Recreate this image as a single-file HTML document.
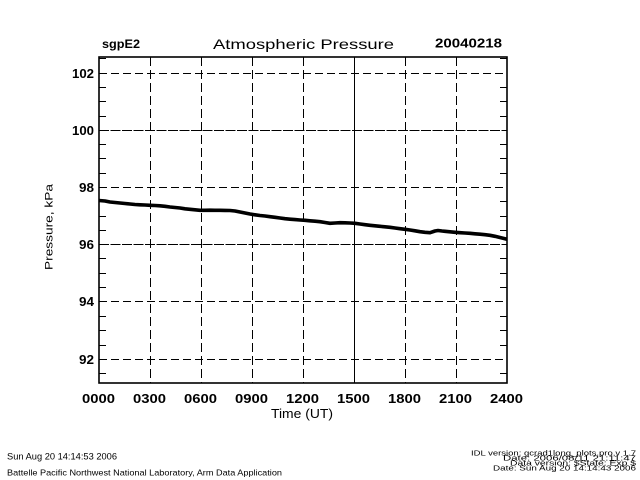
<!DOCTYPE html>
<html><head><meta charset="utf-8"><style>
html,body{margin:0;padding:0;background:#fff;}
svg{display:block;}
text{font-family:"Liberation Sans",sans-serif;fill:#000;}
</style></head><body>
<svg width="640" height="480" viewBox="0 0 640 480" xmlns="http://www.w3.org/2000/svg">
<rect width="640" height="480" fill="#fff"/>
<!-- grid verticals -->
<g stroke="#000" stroke-width="1" fill="none">
<line x1="150.5" y1="57" x2="150.5" y2="383" stroke-dasharray="9,4"/>
<line x1="201.5" y1="57" x2="201.5" y2="383" stroke-dasharray="9,4"/>
<line x1="252.5" y1="57" x2="252.5" y2="383" stroke-dasharray="9,4"/>
<line x1="303.5" y1="57" x2="303.5" y2="383" stroke-dasharray="9,4"/>
<line x1="354.5" y1="57" x2="354.5" y2="383"/>
<line x1="405.5" y1="57" x2="405.5" y2="383" stroke-dasharray="9,4"/>
<line x1="456.5" y1="57" x2="456.5" y2="383" stroke-dasharray="9,4"/>
<!-- grid horizontals -->
<line x1="99" y1="73.5" x2="507" y2="73.5" stroke-dasharray="8,4"/>
<line x1="99" y1="130.5" x2="507" y2="130.5" stroke-dasharray="10,1.5"/>
<line x1="99" y1="187.5" x2="507" y2="187.5" stroke-dasharray="8,4"/>
<line x1="99" y1="244.5" x2="507" y2="244.5" stroke-dasharray="10,1.5"/>
<line x1="99" y1="301.5" x2="507" y2="301.5" stroke-dasharray="8,4"/>
<line x1="99" y1="359.5" x2="507" y2="359.5" stroke-dasharray="8,4"/>
</g>
<!-- minor ticks -->
<g stroke="#000" stroke-width="1">
<line x1="99" y1="58.5" x2="106" y2="58.5"/><line x1="500" y1="58.5" x2="507" y2="58.5"/>
<line x1="99" y1="87.5" x2="106" y2="87.5"/><line x1="500" y1="87.5" x2="507" y2="87.5"/>
<line x1="99" y1="101.5" x2="106" y2="101.5"/><line x1="500" y1="101.5" x2="507" y2="101.5"/>
<line x1="99" y1="116.5" x2="106" y2="116.5"/><line x1="500" y1="116.5" x2="507" y2="116.5"/>
<line x1="99" y1="144.5" x2="106" y2="144.5"/><line x1="500" y1="144.5" x2="507" y2="144.5"/>
<line x1="99" y1="158.5" x2="106" y2="158.5"/><line x1="500" y1="158.5" x2="507" y2="158.5"/>
<line x1="99" y1="173.5" x2="106" y2="173.5"/><line x1="500" y1="173.5" x2="507" y2="173.5"/>
<line x1="99" y1="201.5" x2="106" y2="201.5"/><line x1="500" y1="201.5" x2="507" y2="201.5"/>
<line x1="99" y1="216.5" x2="106" y2="216.5"/><line x1="500" y1="216.5" x2="507" y2="216.5"/>
<line x1="99" y1="230.5" x2="106" y2="230.5"/><line x1="500" y1="230.5" x2="507" y2="230.5"/>
<line x1="99" y1="258.5" x2="106" y2="258.5"/><line x1="500" y1="258.5" x2="507" y2="258.5"/>
<line x1="99" y1="273.5" x2="106" y2="273.5"/><line x1="500" y1="273.5" x2="507" y2="273.5"/>
<line x1="99" y1="287.5" x2="106" y2="287.5"/><line x1="500" y1="287.5" x2="507" y2="287.5"/>
<line x1="99" y1="316.5" x2="106" y2="316.5"/><line x1="500" y1="316.5" x2="507" y2="316.5"/>
<line x1="99" y1="330.5" x2="106" y2="330.5"/><line x1="500" y1="330.5" x2="507" y2="330.5"/>
<line x1="99" y1="345.5" x2="106" y2="345.5"/><line x1="500" y1="345.5" x2="507" y2="345.5"/>
<line x1="99" y1="373.5" x2="106" y2="373.5"/><line x1="500" y1="373.5" x2="507" y2="373.5"/>
</g>
<!-- frame -->
<rect x="99" y="57" width="408" height="326" fill="none" stroke="#000" stroke-width="1.6"/>
<!-- data -->
<polyline fill="none" stroke="#000" stroke-width="3.6" stroke-linejoin="round" points="99,200.5 105,201 110,202 115,202.5 120,203 125,203.5 130,204 135,204.5 140,204.8 145,205 150,205.3 155,205.5 160,205.8 165,206.3 170,207 175,207.5 180,208 185,208.8 190,209.3 195,209.8 200,210.3 205,210.3 210,210.2 215,210.3 220,210.3 225,210.4 230,210.5 235,211 240,212 245,213 250,214 255,214.8 260,215.5 265,216 270,216.7 275,217.3 280,218 285,218.7 290,219.2 295,219.6 300,220 305,220.3 310,220.8 315,221.2 320,221.7 325,222.5 330,223.3 335,223 340,222.7 345,222.8 350,223 355,223.3 360,224 365,224.7 370,225.3 375,225.8 380,226.3 385,226.8 390,227.3 395,228 400,228.7 405,229.3 410,230 415,230.8 420,231.7 425,232.3 430,232.7 435,231 438,230.5 442,231 445,231.3 450,231.8 455,232.3 460,232.7 465,233 470,233.3 475,233.8 480,234.2 485,234.7 490,235.3 495,236.3 500,237.5 504,238.5 507,239.3"/>
<!-- titles -->
<text x="102" y="48" font-size="12" font-weight="bold" textLength="38" lengthAdjust="spacingAndGlyphs">sgpE2</text>
<text x="213" y="49" font-size="14" textLength="181" lengthAdjust="spacingAndGlyphs">Atmospheric Pressure</text>
<text x="435" y="47.5" font-size="12.5" font-weight="bold" textLength="67" lengthAdjust="spacingAndGlyphs">20040218</text>
<!-- y tick labels -->
<g font-size="12.5" font-weight="bold">
<text x="72" y="78" textLength="22" lengthAdjust="spacingAndGlyphs">102</text>
<text x="72" y="135" textLength="22" lengthAdjust="spacingAndGlyphs">100</text>
<text x="79" y="192" textLength="15" lengthAdjust="spacingAndGlyphs">98</text>
<text x="79" y="249" textLength="15" lengthAdjust="spacingAndGlyphs">96</text>
<text x="79" y="306" textLength="15" lengthAdjust="spacingAndGlyphs">94</text>
<text x="79" y="364" textLength="15" lengthAdjust="spacingAndGlyphs">92</text>
</g>
<!-- x tick labels -->
<g font-size="13" font-weight="bold">
<text x="82" y="403" textLength="33" lengthAdjust="spacingAndGlyphs">0000</text>
<text x="133" y="403" textLength="33" lengthAdjust="spacingAndGlyphs">0300</text>
<text x="184" y="403" textLength="33" lengthAdjust="spacingAndGlyphs">0600</text>
<text x="235" y="403" textLength="33" lengthAdjust="spacingAndGlyphs">0900</text>
<text x="286" y="403" textLength="33" lengthAdjust="spacingAndGlyphs">1200</text>
<text x="337" y="403" textLength="33" lengthAdjust="spacingAndGlyphs">1500</text>
<text x="388" y="403" textLength="33" lengthAdjust="spacingAndGlyphs">1800</text>
<text x="439" y="403" textLength="33" lengthAdjust="spacingAndGlyphs">2100</text>
<text x="490" y="403" textLength="33" lengthAdjust="spacingAndGlyphs">2400</text>
</g>
<text x="271" y="418" font-size="13" textLength="62" lengthAdjust="spacingAndGlyphs">Time (UT)</text>
<text transform="translate(52.5,270) rotate(-90)" x="0" y="0" font-size="11" textLength="86" lengthAdjust="spacingAndGlyphs">Pressure, kPa</text>
<!-- footer -->
<text x="7" y="459.5" font-size="9" textLength="110" lengthAdjust="spacingAndGlyphs">Sun Aug 20 14:14:53 2006</text>
<text x="7" y="475.5" font-size="8.5" textLength="275" lengthAdjust="spacingAndGlyphs">Battelle Pacific Northwest National Laboratory, Arm Data Application</text>
<g font-size="7.2">
<text x="471" y="455.5" textLength="165" lengthAdjust="spacingAndGlyphs">IDL version: gcrad1long_plots.pro,v 1.7</text>
<text x="503" y="460.5" textLength="133" lengthAdjust="spacingAndGlyphs">Date: 2006/08/11 21:11:47</text>
<text x="510" y="465.5" textLength="126" lengthAdjust="spacingAndGlyphs">Data version: $State: Exp $</text>
<text x="493" y="470.5" textLength="143" lengthAdjust="spacingAndGlyphs">Date: Sun Aug 20 14:14:43 2006</text>
</g>
</svg>
</body></html>
